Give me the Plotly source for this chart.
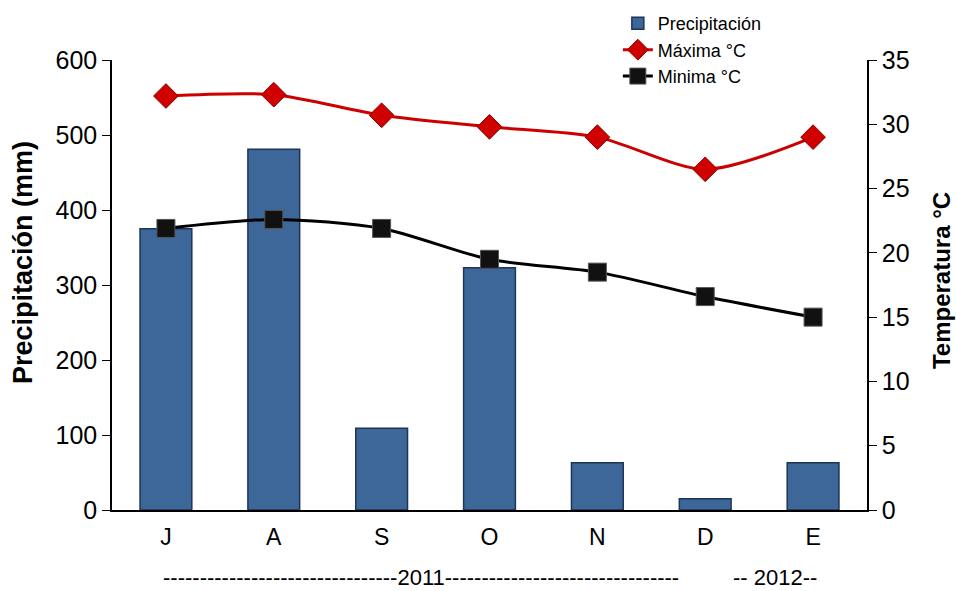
import plotly.graph_objects as go

# Monthly data, July 2011 - January 2012
months = ["J", "A", "S", "O", "N", "D", "E"]
precipitacion = [375, 481, 109, 323, 63, 15, 63]
t_maxima = [32.2, 32.3, 30.7, 29.8, 29.0, 26.5, 29.0]
t_minima = [21.9, 22.6, 21.9, 19.5, 18.5, 16.6, 15.0]

left_ticks = [0, 100, 200, 300, 400, 500, 600]
right_ticks = [0, 5, 10, 15, 20, 25, 30, 35]
label_2011 = "-" * 32 + "2011" + "-" * 32
label_2012 = "-- 2012--"

FONT = "Liberation Sans, Arial, sans-serif"

fig = go.Figure()

fig.add_trace(go.Bar(
    x=months, y=precipitacion, name="Precipitación",
    marker=dict(color="#3e6799", line=dict(color="#1d3557", width=1.5)),
    width=0.48, yaxis="y",
))

fig.add_trace(go.Scatter(
    x=months, y=t_maxima, name="Máxima °C", yaxis="y2",
    mode="lines+markers",
    line=dict(color="#cc0000", width=3, shape="spline", smoothing=0.8),
    marker=dict(symbol="diamond", size=19, color="#d10000",
                line=dict(color="#8a0000", width=1)),
))

fig.add_trace(go.Scatter(
    x=months, y=t_minima, name="Minima °C", yaxis="y2",
    mode="lines+markers",
    line=dict(color="#000000", width=3, shape="spline", smoothing=0.8),
    marker=dict(symbol="square", size=18, color="#111111",
                line=dict(color="#555555", width=1)),
))

fig.update_layout(
    width=956, height=591,
    margin=dict(l=112, r=89, t=60, b=81, autoexpand=False),
    plot_bgcolor="white", paper_bgcolor="white",
    font=dict(family=FONT, size=20, color="#000000"),
    showlegend=True,
    legend=dict(
        x=0.670, y=1.122, xanchor="left", yanchor="top",
        font=dict(family=FONT, size=18, color="#000000"),
        bgcolor="rgba(0,0,0,0)", tracegroupgap=0,
    ),
    xaxis=dict(
        showline=True, linecolor="#000000", linewidth=1.5,
        ticks="", showgrid=False, zeroline=False,
        tickfont=dict(family=FONT, size=23), ticklabelstandoff=6,
    ),
    yaxis=dict(
        range=[0, 600], tickvals=left_ticks, showline=True,
        linecolor="#000000", linewidth=1.5, ticks="outside", ticklen=8,
        tickcolor="#000000", showgrid=False, zeroline=False,
        tickfont=dict(family=FONT, size=25),
    ),
    yaxis2=dict(
        range=[0, 35], tickvals=right_ticks, overlaying="y", side="right",
        showline=True, linecolor="#000000", linewidth=1.5, ticks="outside",
        ticklen=8, tickcolor="#000000", showgrid=False, zeroline=False,
        tickfont=dict(family=FONT, size=25),
    ),
    annotations=[
        # axis titles
        dict(text="<b>Precipitación (mm)</b>", xref="paper", yref="paper",
             x=-0.118, y=0.551, textangle=-90, xanchor="center", yanchor="middle",
             showarrow=False, font=dict(family=FONT, size=27, color="#000000")),
        dict(text="<b>Temperatura °C</b>", xref="paper", yref="paper",
             x=1.098, y=0.511, textangle=-90, xanchor="center", yanchor="middle",
             showarrow=False, font=dict(family=FONT, size=24, color="#000000")),
        # season labels under the months
        dict(text=label_2011, xref="paper", yref="paper", x=0.409, y=-0.150,
             xanchor="center", yanchor="middle", showarrow=False,
             font=dict(family=FONT, size=22, color="#000000")),
        dict(text=label_2012, xref="paper", yref="paper", x=0.878, y=-0.150,
             xanchor="center", yanchor="middle", showarrow=False,
             font=dict(family=FONT, size=22, color="#000000")),
    ],
)

fig.write_html("out.html")
